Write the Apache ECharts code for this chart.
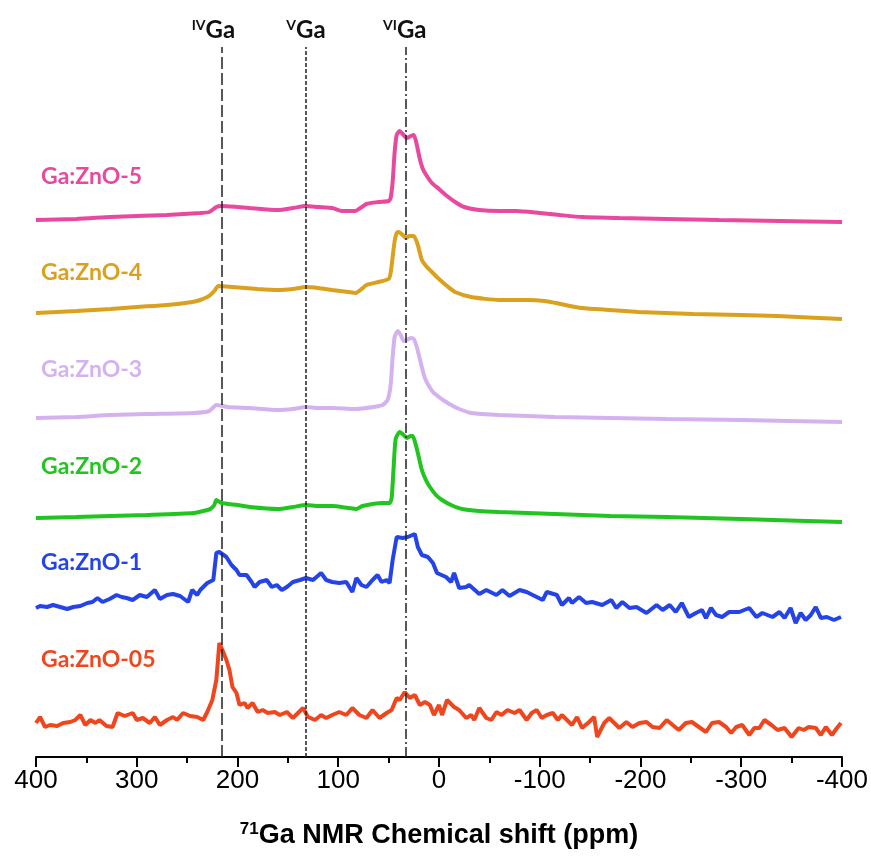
<!DOCTYPE html>
<html>
<head>
<meta charset="utf-8">
<script src="https://cdn.jsdelivr.net/npm/echarts@6/dist/echarts.min.js"></script>
<style>
  html, body { margin: 0; padding: 0; background: #fff; }
  #nmr { width: 871px; height: 863px; }
</style>
</head>
<body>
<div id="nmr"></div>
<script>
// [ppm, intensity], stacked offsets already included
const ga5 = [[400,537],[360,538],[326,540],[300,541],[270,542],[237,544],[228,545],[221,550],[216,551],[200,550],[188,549],[160,547],[145,549],[132,551],[120,550],[106,549],[96,546],[83,546],[78,549],[72,553],[60,555],[50,556],[48,559],[46,575],[44,605],[42,622],[39,626],[36,623],[32,619],[28,621],[25,622],[22,612],[19,598],[16,588],[12,581],[7,574],[0,568],[-8,561],[-16,555],[-25,550],[-40,547],[-60,546],[-77,546],[-100,544],[-120,542],[-142,540],[-179,539],[-226,538],[-278,537],[-338,536],[-400,535]];

const ga4 = [[400,444],[360,446],[326,448],[300,450],[270,452],[245,455],[237,457],[230,460],[227,462],[223,466],[219,471],[205,470],[180,468],[160,467],[145,468],[132,470],[120,469],[106,467],[90,465],[83,464],[78,467],[72,472],[60,475],[50,478],[48,484],[46,500],[44,516],[42,524],[40,525],[36,522],[33,519],[29,521],[25,521],[21,512],[17,497],[12,490],[6,484],[0,478],[-8,471],[-16,465],[-32,460],[-60,457],[-88,457],[-105,456],[-116,454],[-142,449],[-170,447],[-198,445],[-252,443],[-300,442],[-336,441],[-400,438]];

const ga3 = [[400,339],[360,340],[326,342],[290,343],[243,344],[228,346],[221,352],[210,350],[188,349],[160,347],[145,348],[132,350],[120,349],[106,349],[83,348],[65,350],[56,352],[51,357],[48,372],[46,400],[44,420],[41,426],[38,422],[35,416],[32,417],[28,419],[25,418],[22,410],[20,402],[17,390],[14,379],[10,371],[6,365],[0,360],[-4,357],[-12,352],[-20,348],[-32,344],[-60,342],[-115,340],[-170,339],[-226,338],[-300,337],[-400,335]];

const ga2 = [[400,239],[360,240],[326,241],[290,242],[243,244],[230,247],[227,248],[223,252],[221,257],[216,254],[200,252],[188,250],[160,248],[145,250],[132,252],[120,251],[106,251],[90,249],[82,248],[76,251],[56,254],[49,254],[47,259],[45,290],[43,318],[39,325],[35,322],[32,319],[28,321],[26,321],[23,312],[21,304],[17,287],[13,277],[9,270],[3,262],[-3,257],[-12,252],[-23,248],[-40,246],[-60,245],[-115,243],[-170,241],[-226,240],[-300,238],[-400,235]];

const ga1 = [[400,149],[396,151],[389,150],[383,152],[376,150],[369,148],[363,150],[356,151],[349,154],[344,155],[339,159],[334,155],[327,158],[320,162],[315,160],[310,159],[304,157],[297,162],[290,160],[282,167],[277,158],[270,162],[264,163],[257,161],[249,155],[245,167],[240,162],[237,167],[230,174],[224,177],[221,204],[218,205],[211,200],[206,192],[201,187],[198,182],[191,182],[186,175],[183,170],[178,175],[171,177],[166,170],[161,172],[156,167],[151,170],[145,175],[138,177],[132,179],[125,177],[117,184],[112,177],[106,175],[99,174],[92,175],[86,165],[82,179],[77,172],[72,170],[66,177],[61,182],[57,175],[52,177],[49,174],[46,197],[42,220],[36,219],[31,220],[24,223],[21,210],[17,202],[11,200],[6,194],[2,184],[-7,180],[-12,175],[-15,184],[-20,169],[-27,170],[-30,172],[-40,163],[-47,167],[-57,162],[-63,167],[-70,161],[-80,167],[-87,165],[-93,162],[-103,157],[-107,165],[-117,162],[-122,152],[-129,159],[-132,154],[-139,160],[-146,154],[-152,155],[-162,152],[-171,157],[-176,149],[-182,155],[-189,149],[-196,150],[-206,144],[-216,152],[-222,147],[-229,152],[-235,145],[-241,154],[-248,140],[-255,144],[-261,147],[-265,139],[-270,149],[-275,142],[-281,140],[-288,145],[-298,145],[-308,149],[-315,140],[-321,144],[-331,140],[-338,145],[-343,139],[-349,149],[-354,134],[-359,144],[-364,137],[-369,142],[-374,150],[-379,139],[-385,140],[-392,137],[-399,140]];

const ga05 = [[400,34],[396,40],[391,30],[386,32],[379,31],[373,34],[366,35],[361,37],[356,42],[351,32],[346,37],[341,34],[337,37],[330,31],[324,30],[319,44],[312,41],[304,44],[300,37],[294,39],[287,34],[282,40],[277,32],[270,37],[264,40],[260,37],[254,44],[247,41],[240,40],[234,37],[230,45],[225,57],[221,77],[218,114],[215,107],[211,97],[208,87],[205,70],[201,64],[198,52],[193,54],[190,49],[185,54],[180,45],[175,47],[170,44],[163,45],[158,42],[151,45],[145,39],[140,44],[135,49],[130,40],[123,37],[117,42],[112,39],[106,42],[99,45],[92,42],[86,49],[79,42],[72,39],[66,47],[59,39],[52,44],[47,47],[42,59],[39,57],[34,65],[29,59],[24,62],[19,52],[14,55],[9,52],[5,42],[0,52],[-3,42],[-8,57],[-15,50],[-20,47],[-27,39],[-32,42],[-35,37],[-40,49],[-47,39],[-52,37],[-57,45],[-62,42],[-68,47],[-75,44],[-80,47],[-87,37],[-92,44],[-97,47],[-102,39],[-107,42],[-113,44],[-118,37],[-122,42],[-127,37],[-132,32],[-137,40],[-142,29],[-149,35],[-154,40],[-157,20],[-164,34],[-169,39],[-174,34],[-179,29],[-186,35],[-192,30],[-199,34],[-206,35],[-212,30],[-219,29],[-226,37],[-232,32],[-238,27],[-245,34],[-251,35],[-258,30],[-265,25],[-271,34],[-278,35],[-285,30],[-290,24],[-295,30],[-301,32],[-308,22],[-313,29],[-318,29],[-323,37],[-330,32],[-336,27],[-343,29],[-350,20],[-357,29],[-362,27],[-367,30],[-374,29],[-379,22],[-384,30],[-390,22],[-395,29],[-399,34]];

const sampleNames = ["Ga:ZnO-5", "Ga:ZnO-4", "Ga:ZnO-3", "Ga:ZnO-2", "Ga:ZnO-1", "Ga:ZnO-05"];
const sampleData = [ga5, ga4, ga3, ga2, ga1, ga05];
const siteShifts = [216, 132, 33];
const siteNames = ["IV", "V", "VI"];

const colors = ["#E8499F", "#D9A11E", "#D4B2F0", "#22C41F", "#2444E8", "#F0461E"];
const labelTops = [165, 261, 358, 455, 551, 648];
const labelShift = [[-8, 0], [0, 0], [-1, 0]];
const dashes = [[12, 4], [4, 2], [10, 3, 2, 3]];

const chart = echarts.init(document.getElementById("nmr"));

const series = sampleData.map((d, i) => ({
  name: sampleNames[i],
  type: "line",
  data: d,
  showSymbol: false,
  smooth: i < 4 ? 0.2 : false,
  lineStyle: { color: colors[i], width: 4 },
  z: 2,
}));

series[0].markLine = {
  silent: true,
  symbol: "none",
  z: 5,
  data: siteShifts.map((s, i) => ({
    xAxis: s,
    lineStyle: { color: "#222", width: 1.5, type: dashes[i] },
    label: {
      show: true,
      position: "end",
      distance: 4,
      offset: labelShift[i],
      formatter: "{s|" + siteNames[i] + "}{g|Ga}",
      rich: {
        s: { fontFamily: "Lato", fontWeight: "bold", fontSize: 14, color: "#111", padding: [0, 0, 11, 0] },
        g: { fontFamily: "Lato", fontWeight: "bold", fontSize: 24, color: "#111" },
      },
    },
  })),
};

const option = {
  animation: false,
  backgroundColor: "#fff",
  grid: { left: 36, right: 28, top: 47, bottom: 106 },
  xAxis: {
    type: "value",
    inverse: true,
    min: -400,
    max: 400,
    interval: 100,
    splitLine: { show: false },
    axisLine: { lineStyle: { color: "#000", width: 2 } },
    axisTick: { length: 10, lineStyle: { color: "#000", width: 2 } },
    minorTick: { show: true, splitNumber: 2, length: 6, lineStyle: { color: "#000", width: 2 } },
    axisLabel: {
      margin: 11,
      color: "#000",
      fontSize: 26,
      fontFamily: "Liberation Sans, Arial",
    },
    name: "{s|71}{t|Ga NMR Chemical shift (ppm)}",
    nameLocation: "middle",
    nameGap: 64,
    nameTextStyle: {
      rich: {
        s: { fontFamily: "Liberation Sans", fontWeight: "bold", fontSize: 17, color: "#000", padding: [0, 0, 12, 0] },
        t: { fontFamily: "Liberation Sans", fontWeight: "bold", fontSize: 27, color: "#000" },
      },
    },
  },
  yAxis: { type: "value", min: 0, max: 710, show: false },
  graphic: sampleNames.map((n, i) => ({
    type: "text",
    left: 41,
    top: labelTops[i],
    style: { text: n, fill: colors[i], font: "bold 23px Lato" },
  })),
  series: series,
};

chart.setOption(option);
</script>
</body>
</html>
